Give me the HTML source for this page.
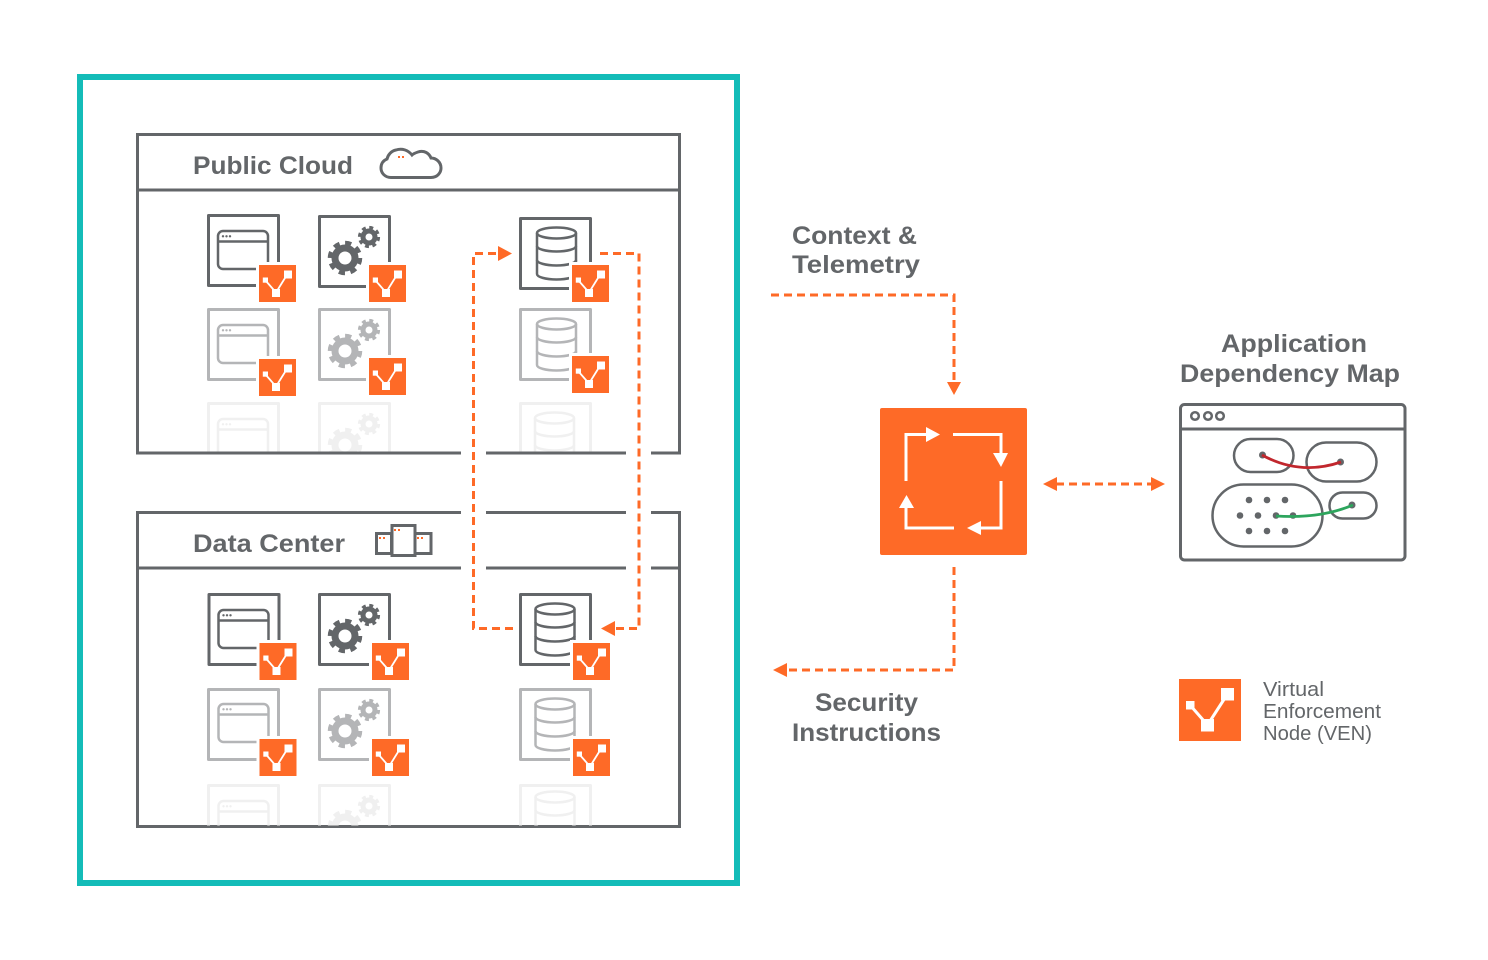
<!DOCTYPE html>
<html lang="en">
<head>
<meta charset="utf-8">
<title>Diagram</title>
<style>
html,body{margin:0;padding:0;background:#fff;}
svg{display:block;}
text{font-family:"Liberation Sans",sans-serif;fill:#636669;}
.h{font-weight:700;font-size:25px;}
.r{font-size:20px;}
.line{fill:none;stroke:#636669;stroke-width:3;}
.dash{fill:none;stroke:#fe6a27;stroke-width:3;stroke-dasharray:8 5;}
.ah{fill:#fe6a27;}
</style>
</head>
<body>
<svg width="1488" height="960" viewBox="0 0 1488 960" xmlns="http://www.w3.org/2000/svg">
<defs>
  <clipPath id="c1"><rect x="130" y="390" width="560" height="61.5"/></clipPath>
  <clipPath id="c2"><rect x="130" y="770" width="560" height="55.5"/></clipPath>
  <g id="tile"><rect x="1.5" y="1.5" width="70" height="70" fill="none" stroke="currentColor" stroke-width="3" stroke-linejoin="round"/></g>
  <g id="win" fill="none" stroke="currentColor" stroke-width="2.5">
    <rect x="11" y="17" width="50" height="38" rx="5"/>
    <path d="M11 27.5H61"/>
    <g fill="currentColor" stroke="none"><circle cx="16" cy="22.3" r="1.2"/><circle cx="19.5" cy="22.3" r="1.2"/><circle cx="23" cy="22.3" r="1.2"/></g>
  </g>
  <g id="gear" fill="none" stroke="currentColor">
    <circle cx="27" cy="43" r="10" stroke-width="7"/>
    <circle cx="27" cy="43" r="15" stroke-width="4.5" stroke-dasharray="6.2 5.58"/>
    <circle cx="51" cy="22" r="6" stroke-width="5"/>
    <circle cx="51" cy="22" r="9.5" stroke-width="3.2" stroke-dasharray="3.9 3.56"/>
  </g>
  <g id="db" fill="none" stroke="currentColor" stroke-width="2.5">
    <ellipse cx="37.5" cy="16" rx="19.5" ry="5.5"/>
    <path d="M18 16V57A19.5 5.5 0 0 0 57 57V16"/>
    <path d="M18 29A19.5 5.5 0 0 0 57 29"/>
    <path d="M18 43A19.5 5.5 0 0 0 57 43"/>
  </g>
  <g id="ven">
    <rect x="-3" y="-3" width="43" height="43" fill="#fff"/>
    <rect x="0" y="0" width="37" height="37" fill="#fe6a27"/>
    <path d="M6.5 15.5L17 27.5L28.5 9" fill="none" stroke="#fff" stroke-width="1.8"/>
    <rect x="3.8" y="12.5" width="5.2" height="5.2" fill="#fff"/>
    <rect x="13" y="24" width="8" height="8" fill="#fff"/>
    <rect x="25" y="5.5" width="8" height="8" fill="#fff"/>
  </g>
</defs>

<rect width="1488" height="960" fill="#fff"/>

<!-- teal frame -->
<rect x="80" y="77" width="657" height="806" fill="none" stroke="#14bcb8" stroke-width="6"/>

<!-- Public Cloud box -->
<path class="line" d="M461 453H137.500V134.500H679.500V453H651M626 453H486"/>
<path class="line" d="M137 190H680"/>
<text class="h" x="193" y="174" textLength="160" lengthAdjust="spacingAndGlyphs">Public Cloud</text>
<path class="line" d="M391 177.500H431C438 177.500 441 172 441 168C441 162 436 158 431 158C429 153 424 150 418 152C415 153 413 154 412 155C408 150 402 148 396 150C391 151 388 155 387 159C382 161 381 165 381 168C381 173 385 177.500 391 177.500Z"/>
<rect x="398" y="156" width="2" height="2" fill="#fe6a27"/><rect x="402" y="156" width="2" height="2" fill="#fe6a27"/>

<!-- Public Cloud tiles -->
<g color="#636669">
  <use href="#tile" x="207" y="214"/><use href="#win" x="207" y="214"/>
  <use href="#tile" x="318" y="215"/><use href="#gear" x="318" y="215"/>
  <use href="#tile" x="519" y="217"/><use href="#db" x="519" y="217"/>
</g>
<g color="#b4b5b7">
  <use href="#tile" x="207" y="308"/><use href="#win" x="207" y="308"/>
  <use href="#tile" x="318" y="308"/><use href="#gear" x="318" y="308"/>
  <use href="#tile" x="519" y="308"/><use href="#db" x="519" y="308"/>
</g>
<g color="#f0f0f0" clip-path="url(#c1)">
  <use href="#tile" x="207" y="402"/><use href="#win" x="207" y="402"/>
  <use href="#tile" x="318" y="402"/><use href="#gear" x="318" y="402"/>
  <use href="#tile" x="519" y="402"/><use href="#db" x="517" y="402"/>
</g>
<use href="#ven" x="259" y="265"/><use href="#ven" x="369" y="265"/><use href="#ven" x="572" y="265"/>
<use href="#ven" x="259" y="359"/><use href="#ven" x="369" y="358"/><use href="#ven" x="572" y="356"/>

<!-- Data Center box -->
<path class="line" d="M461 512.500H137.500V826.500H679.500V512.500H651M626 512.500H486"/>
<path class="line" d="M137 568H461M486 568H626M651 568H680"/>
<text class="h" x="193" y="552" textLength="152" lengthAdjust="spacingAndGlyphs">Data Center</text>
<rect x="376.500" y="533.500" width="15" height="20" fill="none" stroke="#636669" stroke-width="3"/>
<rect x="415" y="533.500" width="16" height="20" fill="none" stroke="#636669" stroke-width="3"/>
<rect x="392" y="525.500" width="23" height="30" fill="#fff" stroke="#636669" stroke-width="3"/>
<g fill="#fe6a27"><rect x="379" y="537" width="2" height="2"/><rect x="383" y="537" width="2" height="2"/><rect x="394" y="529" width="2" height="2"/><rect x="398" y="529" width="2" height="2"/><rect x="417" y="537" width="2" height="2"/><rect x="421" y="537" width="2" height="2"/></g>

<!-- Data Center tiles -->
<g color="#636669">
  <use href="#tile" x="207.500" y="593"/><use href="#win" x="207.500" y="593"/>
  <use href="#tile" x="318" y="593"/><use href="#gear" x="318" y="593"/>
  <use href="#tile" x="519" y="593"/><use href="#db" x="517.500" y="593"/>
</g>
<g color="#b4b5b7">
  <use href="#tile" x="207" y="688"/><use href="#win" x="207.500" y="687"/>
  <use href="#tile" x="318" y="688"/><use href="#gear" x="318" y="688"/>
  <use href="#tile" x="519" y="688"/><use href="#db" x="517.500" y="688"/>
</g>
<g color="#f0f0f0" clip-path="url(#c2)">
  <use href="#tile" x="207" y="784"/><use href="#win" x="207.500" y="784"/>
  <use href="#tile" x="318" y="784"/><use href="#gear" x="318" y="784"/>
  <use href="#tile" x="519" y="784"/><use href="#db" x="517.500" y="781"/>
</g>
<use href="#ven" x="259.500" y="643"/><use href="#ven" x="372" y="643"/><use href="#ven" x="573" y="643"/>
<use href="#ven" x="259.500" y="739"/><use href="#ven" x="372" y="739"/><use href="#ven" x="573" y="739"/>

<!-- dashed loop -->
<path class="dash" stroke-dashoffset="-3" style="stroke-dashoffset:-3" d="M499 253.500H473.500V628.500H514"/>
<path class="ah" d="M498 246L512 253.500L498 261Z"/>
<path class="dash" d="M600 253.500H639V628.500H614"/>
<path class="ah" d="M615 621L601 628.500L615 636Z"/>

<!-- right connectors -->
<path class="dash" d="M771 295H954V383"/>
<path class="ah" d="M947 382H961L954 395Z"/>
<path class="dash" d="M954 567V670H786"/>
<path class="ah" d="M787 663V677L773 670Z"/>
<path class="dash" d="M1056 484H1152"/>
<path class="ah" d="M1057 477V491L1043 484Z"/>
<path class="ah" d="M1151 477V491L1165 484Z"/>

<!-- central square -->
<rect x="880" y="408" width="147" height="147" rx="2" fill="#fe6a27"/>
<g fill="none" stroke="#fff" stroke-width="3">
  <path d="M906 481V434.500H928"/>
  <path d="M953 434.500H1001V454"/>
  <path d="M1001 481V528H979"/>
  <path d="M954 528H906V508"/>
</g>
<g fill="#fff">
  <path d="M926 427L940 434.500L926 442Z"/>
  <path d="M993 453H1008L1001 467Z"/>
  <path d="M981 521V535L967 528Z"/>
  <path d="M899 508H914L906.500 495Z"/>
</g>

<!-- labels -->
<text class="h" x="792" y="244" textLength="125" lengthAdjust="spacingAndGlyphs">Context &amp;</text>
<text class="h" x="792" y="273" textLength="128" lengthAdjust="spacingAndGlyphs">Telemetry</text>
<text class="h" x="1221" y="352" textLength="146" lengthAdjust="spacingAndGlyphs">Application</text>
<text class="h" x="1180" y="382" textLength="220" lengthAdjust="spacingAndGlyphs">Dependency Map</text>
<text class="h" x="815" y="711" textLength="103" lengthAdjust="spacingAndGlyphs">Security</text>
<text class="h" x="792" y="741" textLength="149" lengthAdjust="spacingAndGlyphs">Instructions</text>

<!-- app dependency map -->
<g fill="none" stroke="#636669">
  <rect x="1180.500" y="404.500" width="224.500" height="155.500" rx="4" stroke-width="3"/>
  <path d="M1180 429H1406" stroke-width="3"/>
  <circle cx="1195" cy="416" r="3.800" stroke-width="2.500"/>
  <circle cx="1208" cy="416" r="3.800" stroke-width="2.500"/>
  <circle cx="1220" cy="416" r="3.800" stroke-width="2.500"/>
  <rect x="1234" y="439" width="59.500" height="33" rx="16.500" stroke-width="2.500"/>
  <rect x="1306.500" y="442.500" width="70" height="39" rx="19.500" stroke-width="2.500"/>
  <rect x="1212.500" y="484.500" width="110" height="62" rx="31" stroke-width="2.500"/>
  <rect x="1329.500" y="492.500" width="47" height="26" rx="13" stroke-width="2.500"/>
</g>
<g fill="#636669">
  <circle cx="1249" cy="500" r="3.300"/><circle cx="1267" cy="500" r="3.300"/><circle cx="1285" cy="500" r="3.300"/>
  <circle cx="1240" cy="515.500" r="3.300"/><circle cx="1258" cy="515.500" r="3.300"/><circle cx="1276" cy="515.500" r="3.300"/><circle cx="1293" cy="515.500" r="3.300"/>
  <circle cx="1249" cy="531" r="3.300"/><circle cx="1267" cy="531" r="3.300"/><circle cx="1285" cy="531" r="3.300"/>
  <circle cx="1262.500" cy="455" r="3.500"/><circle cx="1340.500" cy="462" r="3.500"/><circle cx="1352" cy="505" r="3.500"/>
</g>
<path d="M1262 455Q1300 476 1341 462" fill="none" stroke="#c1272d" stroke-width="2.800"/>
<path d="M1276 516Q1320 519 1353 505" fill="none" stroke="#2da55d" stroke-width="2.800"/>

<!-- legend -->
<rect x="1179" y="679" width="62" height="62" fill="#fe6a27"/>
<path d="M1190 705L1207.500 725L1227.500 694" fill="none" stroke="#fff" stroke-width="3"/>
<rect x="1186" y="701" width="8.500" height="8.500" fill="#fff"/>
<rect x="1201" y="719" width="13" height="12.500" fill="#fff"/>
<rect x="1221" y="688" width="13" height="12.500" fill="#fff"/>
<text class="r" x="1263" y="696" textLength="61" lengthAdjust="spacingAndGlyphs">Virtual</text>
<text class="r" x="1263" y="718" textLength="118" lengthAdjust="spacingAndGlyphs">Enforcement</text>
<text class="r" x="1263" y="740" textLength="109" lengthAdjust="spacingAndGlyphs">Node (VEN)</text>
</svg>
</body>
</html>
